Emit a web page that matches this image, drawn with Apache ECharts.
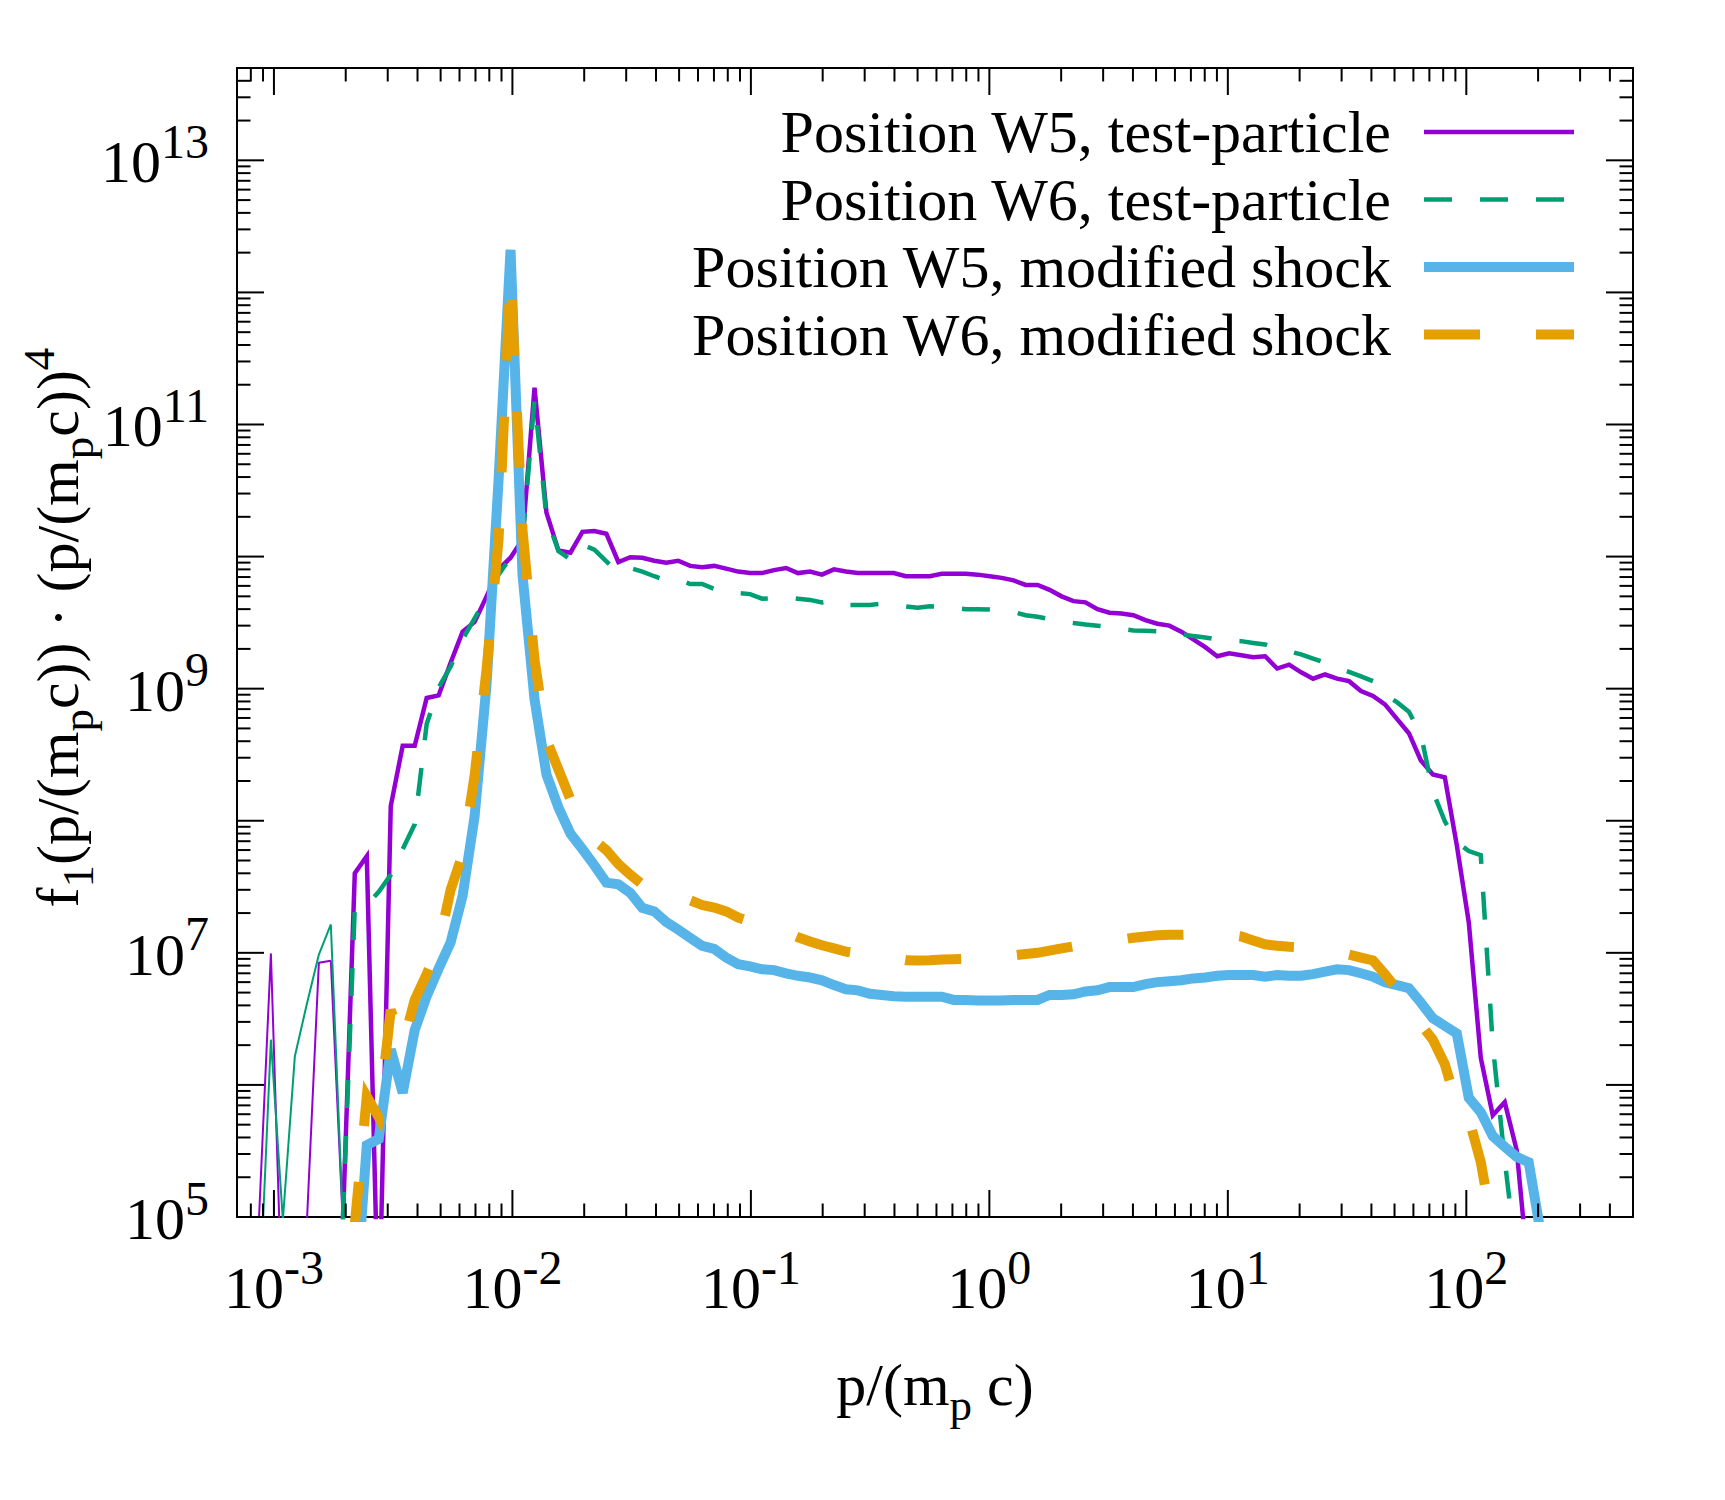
<!DOCTYPE html>
<html>
<head>
<meta charset="utf-8">
<title>f1 p^4 spectra</title>
<script src="https://cdn.jsdelivr.net/npm/echarts@6/dist/echarts.min.js"></script>
<style>
html, body { margin: 0; padding: 0; background: #fff; }
#chart { width: 1725px; height: 1500px; }
</style>
</head>
<body>
<div id="chart"></div>
<script>
// momentum bins p/(m_p c), shared by every curve (index 0 = first bin)
const p = [
  8.65e-4, 9.71e-4, 1.090e-3, 1.224e-3, 1.374e-3, 1.543e-3, 1.732e-3, 1.945e-3, 2.183e-3, 2.451e-3,
  2.751e-3, 3.089e-3, 3.467e-3, 3.893e-3, 4.370e-3, 4.906e-3, 5.507e-3, 6.183e-3, 6.941e-3, 7.792e-3,
  8.748e-3, 9.820e-3, 1.102e-2, 1.238e-2, 1.389e-2, 1.560e-2, 1.751e-2, 1.966e-2, 2.207e-2, 2.477e-2,
  2.781e-2, 3.122e-2, 3.505e-2, 3.935e-2, 4.416e-2, 4.958e-2, 5.566e-2, 6.249e-2, 7.015e-2, 7.875e-2,
  8.841e-2, 9.920e-2, 0.1114, 0.1251, 0.1404, 0.1576, 0.1769, 0.1986, 0.2230, 0.2503,
  0.2810, 0.3154, 0.3541, 0.3975, 0.4462, 0.5010, 0.5624, 0.6314, 0.7088, 0.7957,
  0.8932, 1.003, 1.126, 1.264, 1.419, 1.593, 1.788, 2.007, 2.254, 2.529,
  2.840, 3.188, 3.578, 4.018, 4.510, 5.063, 5.684, 6.381, 7.163, 8.041,
  9.028, 10.13, 11.38, 12.77, 14.34, 16.10, 18.07, 20.29, 22.77, 25.56,
  28.70, 32.22, 36.17, 40.60, 45.58, 51.17, 57.44, 64.49, 72.39, 81.27,
  91.24, 102.4, 115.0, 129.1, 144.9, 162.7, 182.6, 205.0
];

// f1 * (p/(m_p c))^4. Each array starts at the bin index given in *Start.
// low-momentum noise drawn with a thin pen
const w5LowStart = 0;
const w5Low = [9.5e4, 9.9e6, 1.3e4, 1e3, 9e4, 8.4e6, 8.7e6, 9e4];
const w6LowStart = 0;
const w6Low = [1.8e4, 2.2e6, 9.5e4, 1.65e6, 4.1e6, 9.7e6, 1.64e7, 9.5e4];

const w5TestStart = 7;
const w5Test = [
  9e4, 4.0e7, 5.4e7, 1.3e4, 1.29e8, 3.7e8, 3.7e8, 8.5e8, 8.9e8, 1.57e9,
  2.7e9, 3.2e9, 5.0e9, 8.0e9, 9.8e9, 1.35e10, 1.9e11, 2.15e10, 1.11e10, 1.07e10,
  1.54e10, 1.56e10, 1.49e10, 9.1e9, 9.9e9, 9.8e9, 9.3e9, 9.0e9, 9.3e9, 8.5e9,
  8.3e9, 8.5e9, 8.1e9, 7.7e9, 7.5e9, 7.5e9, 7.9e9, 8.2e9, 7.5e9, 7.7e9,
  7.3e9, 8.0e9, 7.7e9, 7.5e9, 7.5e9, 7.5e9, 7.5e9, 7.1e9, 7.1e9, 7.1e9,
  7.4e9, 7.4e9, 7.4e9, 7.3e9, 7.1e9, 6.9e9, 6.6e9, 6.1e9, 6.1e9, 5.6e9,
  5.0e9, 4.6e9, 4.5e9, 4.0e9, 3.76e9, 3.7e9, 3.6e9, 3.3e9, 3.1e9, 3.0e9,
  2.7e9, 2.36e9, 2.06e9, 1.76e9, 1.85e9, 1.79e9, 1.73e9, 1.76e9, 1.42e9, 1.52e9,
  1.33e9, 1.19e9, 1.28e9, 1.19e9, 1.14e9, 9.6e8, 8.8e8, 7.6e8, 5.9e8, 4.6e8,
  2.86e8, 2.24e8, 2.13e8, 6.5e7, 1.7e7, 1.6e6, 5.9e5, 7.4e5, 3.2e5, 3.5e4
];

const w6TestStart = 7;
const w6Test = [
  9.5e4, 2.2e7, 2.3e7, 2.9e7, 3.9e7, 6.1e7, 9.4e7, 5.4e8, 1.02e9, 1.47e9,
  2.36e9, 3.4e9, 4.9e9, 7.3e9, 9.8e9, 1.3e10, 1.55e11, 2.0e10, 1.1e10, 9.5e9,
  1.23e10, 1.13e10, 9.2e9, 7.6e9, 8.2e9, 7.7e9, 7.1e9, 6.6e9, 6.7e9, 6.2e9,
  6.2e9, 5.7e9, 5.3e9, 5.3e9, 5.2e9, 4.8e9, 4.85e9, 4.9e9, 4.8e9, 4.7e9,
  4.5e9, 4.65e9, 4.3e9, 4.3e9, 4.3e9, 4.4e9, 4.3e9, 4.2e9, 4.1e9, 4.2e9,
  4.15e9, 4.1e9, 4.0e9, 4.0e9, 3.98e9, 3.9e9, 3.8e9, 3.6e9, 3.5e9, 3.36e9,
  3.24e9, 3.14e9, 3.06e9, 3.0e9, 2.94e9, 2.83e9, 2.76e9, 2.74e9, 2.72e9, 2.72e9,
  2.59e9, 2.5e9, 2.44e9, 2.36e9, 2.31e9, 2.29e9, 2.22e9, 2.16e9, 2.0e9, 1.91e9,
  1.82e9, 1.69e9, 1.57e9, 1.44e9, 1.34e9, 1.24e9, 1.14e9, 9.0e8, 7.9e8, 6.7e8,
  4.5e8, 1.67e8, 9.9e7, 6.9e7, 5.9e7, 5.5e7, 2.0e6, 2.7e5, 4.6e4
];

const w5ModStart = 8;
const w5Mod = [
  1.9e4, 3.5e5, 3.9e5, 1.86e6, 8.7e5, 2.6e6, 4.7e6, 7.6e6, 1.2e7, 2.7e7,
  1.08e8, 1.08e9, 3.8e10, 2.1e12, 7.3e9, 8.3e8, 2.24e8, 1.26e8, 8.0e7, 6.1e7,
  4.6e7, 3.4e7, 3.3e7, 2.84e7, 2.19e7, 2.06e7, 1.71e7, 1.5e7, 1.3e7, 1.13e7,
  1.07e7, 9.2e6, 8.2e6, 7.9e6, 7.5e6, 7.4e6, 7.0e6, 6.7e6, 6.5e6, 6.2e6,
  5.7e6, 5.3e6, 5.2e6, 4.9e6, 4.8e6, 4.7e6, 4.65e6, 4.65e6, 4.65e6, 4.65e6,
  4.4e6, 4.4e6, 4.36e6, 4.36e6, 4.36e6, 4.4e6, 4.4e6, 4.4e6, 4.8e6, 4.8e6,
  4.85e6, 5.1e6, 5.2e6, 5.5e6, 5.5e6, 5.5e6, 5.8e6, 6.0e6, 6.1e6, 6.2e6,
  6.4e6, 6.5e6, 6.7e6, 6.8e6, 6.8e6, 6.8e6, 6.6e6, 6.8e6, 6.7e6, 6.7e6,
  6.9e6, 7.2e6, 7.5e6, 7.4e6, 7.0e6, 6.6e6, 6.0e6, 5.7e6, 5.4e6, 4.2e6,
  3.2e6, 2.8e6, 2.45e6, 8.0e5, 6.2e5, 4.1e5, 3.4e5, 2.85e5, 2.6e5, 7.6e4
];

const w6ModStart = 7;
const w6Mod = [
  1e4, 8.8e4, 8.2e5, 5.7e5, 3.7e6, 2.0e6, 4.4e6, 6.9e6, 1.14e7, 3.0e7,
  5.6e7, 2.2e8, 1.4e9, 1.35e10, 1.37e12, 1.6e10, 1.66e9, 4.1e8, 2.44e8, 1.45e8,
  9.5e7, 7.1e7, 6.0e7, 4.7e7, 3.9e7, 3.3e7, 3.0e7, 2.8e7, 2.4e7, 2.5e7,
  2.3e7, 2.2e7, 2.06e7, 1.85e7, 1.73e7, 1.64e7, 1.55e7, 1.43e7, 1.31e7, 1.22e7,
  1.14e7, 1.08e7, 1.02e7, 9.9e6, 9.6e6, 9.7e6, 9.1e6, 8.8e6, 8.75e6, 8.8e6,
  8.9e6, 8.95e6, 9.0e6, 9.1e6, 9.2e6, 9.2e6, 9.55e6, 9.8e6, 1.0e7, 1.04e7,
  1.08e7, 1.12e7, 1.15e7, 1.18e7, 1.22e7, 1.26e7, 1.3e7, 1.33e7, 1.36e7, 1.37e7,
  1.37e7, 1.38e7, 1.38e7, 1.38e7, 1.37e7, 1.33e7, 1.24e7, 1.16e7, 1.13e7, 1.11e7,
  1.10e7, 1.09e7, 1.07e7, 1.03e7, 9.7e6, 9.2e6, 8.75e6, 6.9e6, 5.3e6, 4.1e6,
  2.87e6, 2.2e6, 1.43e6, 7.1e5, 5.6e5, 2.6e5, 8e4, 1e4
];

// axes
const X_MIN = 7e-4, X_MAX = 500;
const Y_MIN = 1e5, Y_MAX = 5e13;
const xMajor = [1e-3, 1e-2, 1e-1, 1, 10, 100];
const xExp = ['-3', '-2', '-1', '0', '1', '2'];
const yMajor = [1e5, 1e6, 1e7, 1e8, 1e9, 1e10, 1e11, 1e12, 1e13];
const yLabelVals = [1e5, 1e7, 1e9, 1e11, 1e13];
const yExp = ['5', '7', '9', '11', '13'];

function minorTicks(lo, hi, d0, d1) {
  const out = [];
  for (let d = d0; d <= d1; d++) {
    for (let m = 2; m <= 9; m++) {
      const v = m * Math.pow(10, d);
      if (v > lo && v < hi) out.push(v);
    }
  }
  return out;
}
const xMinor = minorTicks(X_MIN, X_MAX, -4, 2);
const yMinor = minorTicks(Y_MIN, Y_MAX, 5, 13);

const FONT = "'Liberation Serif', 'Times New Roman', serif";
const MAJOR = 27, MINOR = 13.5;

function pairs(start, vals) {
  return vals.map((v, j) => [p[start + j], v]);
}

// a tall base line box lets the raised / lowered tokens sit off the baseline
const tickRich = {
  b: { fontFamily: FONT, fontSize: 60, lineHeight: 90, color: '#000' },
  s: { fontFamily: FONT, fontSize: 48, verticalAlign: 'top', color: '#000' }
};
const titleRich = {
  a: { fontFamily: FONT, fontSize: 60, lineHeight: 84, color: '#000' },
  s: { fontFamily: FONT, fontSize: 45, verticalAlign: 'bottom', color: '#000' },
  u: { fontFamily: FONT, fontSize: 45, verticalAlign: 'top', color: '#000' }
};

function xTicks(values, len) {
  return {
    type: 'custom', silent: true, z: 6, encode: { x: 0, y: 1 },
    data: values.map(v => [v, Y_MIN]),
    renderItem(params, api) {
      const v = api.value(0);
      const b = api.coord([v, Y_MIN]);
      const t = api.coord([v, Y_MAX]);
      return { type: 'group', children: [
        { type: 'line', shape: { x1: b[0], y1: b[1], x2: b[0], y2: b[1] - len }, style: { stroke: '#000', lineWidth: 2 } },
        { type: 'line', shape: { x1: t[0], y1: t[1], x2: t[0], y2: t[1] + len }, style: { stroke: '#000', lineWidth: 2 } }
      ] };
    }
  };
}
function yTicks(values, len) {
  return {
    type: 'custom', silent: true, z: 6, encode: { x: 0, y: 1 },
    data: values.map(v => [X_MIN, v]),
    renderItem(params, api) {
      const v = api.value(1);
      const l = api.coord([X_MIN, v]);
      const r = api.coord([X_MAX, v]);
      return { type: 'group', children: [
        { type: 'line', shape: { x1: l[0], y1: l[1], x2: l[0] + len, y2: l[1] }, style: { stroke: '#000', lineWidth: 2 } },
        { type: 'line', shape: { x1: r[0], y1: r[1], x2: r[0] - len, y2: r[1] }, style: { stroke: '#000', lineWidth: 2 } }
      ] };
    }
  };
}

const chart = echarts.init(document.getElementById('chart'), null, { renderer: 'svg' });

const option = {
  animation: false,
  backgroundColor: '#fff',
  textStyle: { fontFamily: FONT },
  grid: { left: 237, right: 92, top: 68, bottom: 283, show: true, borderColor: '#000', borderWidth: 2, backgroundColor: 'transparent' },
  xAxis: {
    type: 'log', logBase: 10, min: X_MIN, max: X_MAX,
    axisLine: { show: false }, axisTick: { show: false }, axisLabel: { show: false }, splitLine: { show: false },
    name: '{a|p/(m}{s|p}{a| c)}', nameLocation: 'middle', nameGap: 126,
    nameTextStyle: { rich: titleRich }
  },
  yAxis: {
    type: 'log', logBase: 10, min: Y_MIN, max: Y_MAX,
    axisLine: { show: false }, axisTick: { show: false }, axisLabel: { show: false }, splitLine: { show: false },
    name: '{a|f}{s|1}{a|(p/(m}{s|p}{a|c)) · (p/(m}{s|p}{a|c))}{u|4}',
    nameLocation: 'middle', nameRotate: 90, nameGap: 137,
    nameTextStyle: { rich: titleRich, padding: [0, 0, 0, 30] }
  },
  legend: {
    data: ['Position W5, test-particle', 'Position W6, test-particle', 'Position W5, modified shock', 'Position W6, modified shock'],
    orient: 'vertical', align: 'right', right: 146, top: 102, padding: 0,
    itemWidth: 150, itemHeight: 20, itemGap: 7.5,
    selectedMode: false,
    itemStyle: { opacity: 0 },
    lineStyle: { width: 'inherit' },
    textStyle: { fontFamily: FONT, fontSize: 60, color: '#000', lineHeight: 60, padding: [0, 28, 0, 0] }
  },
  series: [
    {
      name: 'Position W5, test-particle', type: 'line', data: pairs(w5TestStart, w5Test),
      symbol: 'none', showSymbol: false, silent: true, z: 2,
      lineStyle: { color: '#9400D3', width: 4.5, join: 'miter' }, itemStyle: { color: '#9400D3' }
    },
    {
      name: 'W5 low', type: 'line', data: pairs(w5LowStart, w5Low),
      symbol: 'none', showSymbol: false, silent: true, z: 2,
      lineStyle: { color: '#9400D3', width: 2 }, itemStyle: { color: '#9400D3' }
    },
    {
      name: 'Position W6, test-particle', type: 'line', data: pairs(w6TestStart, w6Test),
      symbol: 'none', showSymbol: false, silent: true, z: 2,
      lineStyle: { color: '#009E73', width: 4.5, type: [28, 28], join: 'miter' }, itemStyle: { color: '#009E73' }
    },
    {
      name: 'W6 low', type: 'line', data: pairs(w6LowStart, w6Low),
      symbol: 'none', showSymbol: false, silent: true, z: 2,
      lineStyle: { color: '#009E73', width: 2 }, itemStyle: { color: '#009E73' }
    },
    {
      name: 'Position W5, modified shock', type: 'line', data: pairs(w5ModStart, w5Mod),
      symbol: 'none', showSymbol: false, silent: true, z: 2,
      lineStyle: { color: '#56B4E9', width: 10, join: 'miter' }, itemStyle: { color: '#56B4E9' }
    },
    {
      name: 'Position W6, modified shock', type: 'line', data: pairs(w6ModStart, w6Mod),
      symbol: 'none', showSymbol: false, silent: true, z: 2,
      lineStyle: { color: '#E69F00', width: 10, type: [56, 56], join: 'miter' }, itemStyle: { color: '#E69F00' }
    },
    xTicks(xMajor, MAJOR),
    xTicks(xMinor, MINOR),
    yTicks(yMajor, MAJOR),
    yTicks(yMinor, MINOR),
    {
      type: 'custom', silent: true, z: 6, encode: { x: 0, y: 1 },
      data: xMajor.map(v => [v, Y_MIN]),
      renderItem(params, api) {
        const pt = api.coord([api.value(0), Y_MIN]);
        return {
          type: 'text', x: pt[0], y: pt[1] + 26,
          style: { text: '{b|10}{s|' + xExp[params.dataIndex] + '}', rich: tickRich, align: 'center', verticalAlign: 'top', fill: '#000' }
        };
      }
    },
    {
      type: 'custom', silent: true, z: 6, encode: { x: 0, y: 1 },
      data: yLabelVals.map(v => [X_MIN, v]),
      renderItem(params, api) {
        const pt = api.coord([X_MIN, api.value(1)]);
        return {
          type: 'text', x: pt[0] - 28, y: pt[1] + 2,
          style: { text: '{b|10}{s|' + yExp[params.dataIndex] + '}', rich: tickRich, align: 'right', verticalAlign: 'middle', fill: '#000' }
        };
      }
    }
  ]
};

chart.setOption(option);
</script>
</body>
</html>
